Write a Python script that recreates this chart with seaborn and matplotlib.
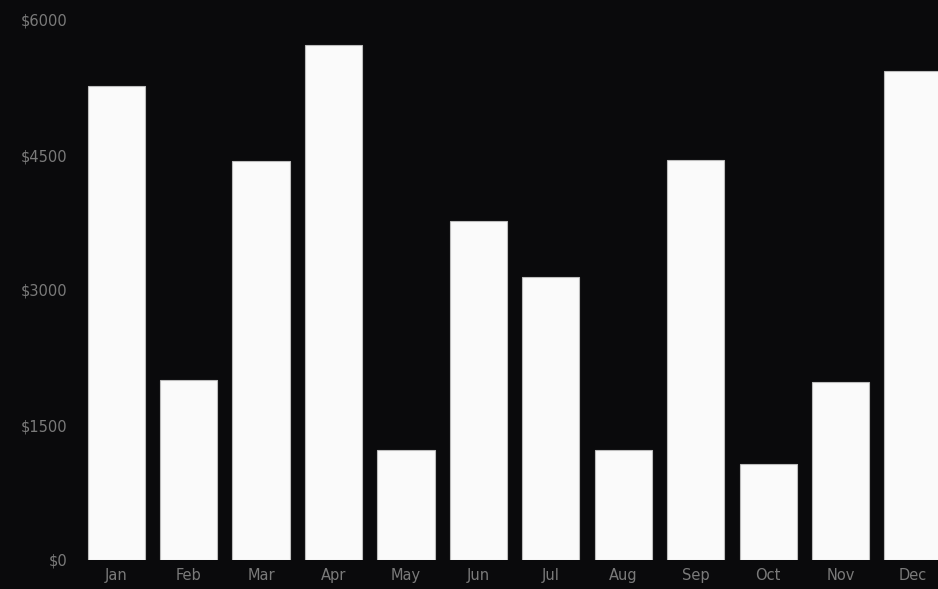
import matplotlib
matplotlib.use("Agg")
import matplotlib.pyplot as plt
import seaborn as sns
import pandas as pd

months = ["Jan", "Feb", "Mar", "Apr", "May", "Jun", "Jul", "Aug", "Sep", "Oct", "Nov", "Dec"]
revenue = [5270, 2000, 4430, 5720, 1220, 3770, 3150, 1220, 4450, 1070, 1980, 5430]
y_ticks = [0, 1500, 3000, 4500, 6000]
y_tick_labels = ["$0", "$1500", "$3000", "$4500", "$6000"]

df = pd.DataFrame({"month": months, "revenue": revenue})

sns.set_theme(style="dark")
plt.rcParams["font.family"] = ["DejaVu Sans"]

bg = "#0a0a0c"
W, H = 938, 589
fig = plt.figure(figsize=(W / 100, H / 100), dpi=100, facecolor=bg)
left, right, top, bottom = 80, 938, 20, 560
ax = fig.add_axes([left / W, 1 - bottom / H, (right - left) / W, (bottom - top) / H])
ax.set_facecolor(bg)

sns.barplot(data=df, x="month", y="revenue", color="#fafafa", saturation=1,
            width=0.79, edgecolor="#bdbdbd", linewidth=0.8, ax=ax)

ax.set_xlim(-0.5, 11 + (938 - 913) / 72.4)
ax.set_ylim(0, 6000)
ax.set_yticks(y_ticks)
ax.set_yticklabels(y_tick_labels)
ax.set_xlabel("")
ax.set_ylabel("")
ax.grid(False)
for s in ax.spines.values():
    s.set_visible(False)
ax.tick_params(axis="both", length=0, colors="#7a7a7a", labelsize=10.5)
ax.tick_params(axis="y", pad=9)
ax.tick_params(axis="x", pad=6)

fig.savefig("out.png", dpi=100, facecolor=bg)
